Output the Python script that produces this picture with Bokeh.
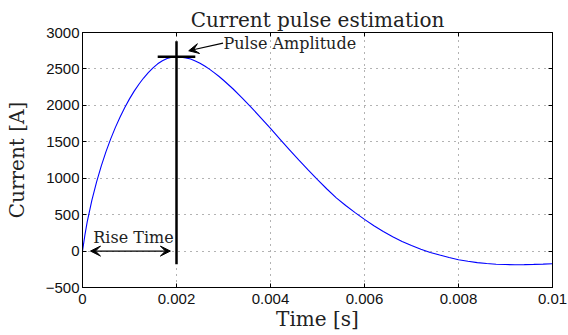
from bokeh.plotting import figure
from bokeh.models import FixedTicker, LinearAxis, Range1d, Arrow, VeeHead, Label
from bokeh.embed import file_html
from bokeh.resources import INLINE

# ---- data ----
time_s = [0.0, 0.00005, 0.0001, 0.0002, 0.0003, 0.0004, 0.0005, 0.0006, 0.0007, 0.0008,
          0.0009, 0.0010, 0.0011, 0.0012, 0.0013, 0.0014, 0.0015, 0.0016, 0.0017, 0.0018,
          0.0019, 0.0020, 0.0021, 0.0022, 0.0023, 0.0024, 0.0025, 0.0026, 0.0027, 0.0028,
          0.0029, 0.0030, 0.0032, 0.0034, 0.0036, 0.0038, 0.0040, 0.0042, 0.0044, 0.0046,
          0.0048, 0.0050, 0.0052, 0.0054, 0.0056, 0.0058, 0.0060, 0.0062, 0.0064, 0.0066,
          0.0068, 0.0070, 0.0072, 0.0074, 0.0076, 0.0078, 0.0080, 0.0082, 0.0084, 0.0086,
          0.0088, 0.0090, 0.0092, 0.0094, 0.0096, 0.0098, 0.0100]
current_a = [0, 215, 400, 700, 950, 1170, 1365, 1540, 1698, 1841,
             1971, 2089, 2195, 2290, 2375, 2450, 2515, 2570, 2613, 2643,
             2660, 2666, 2662, 2652, 2635, 2610, 2578, 2540, 2497, 2450,
             2400, 2345, 2228, 2100, 1966, 1826, 1683, 1538, 1394, 1252,
             1114, 980, 852, 730, 625, 528, 435, 348, 268, 196,
             132, 75, 25, -20, -55, -88, -118, -140, -158, -171,
             -180, -185, -187, -186, -183, -179, -174]

x_ticks = [0.0, 0.002, 0.004, 0.006, 0.008, 0.01]
x_tick_labels = ["0", "0.002", "0.004", "0.006", "0.008", "0.01"]
y_ticks = [-500, 0, 500, 1000, 1500, 2000, 2500, 3000]
y_tick_labels = ["\u2212500", "0", "500", "1000", "1500", "2000", "2500", "3000"]

peak_time = 0.002
peak_current = 2666
rise_start = 0.0

title_text = "Current pulse estimation"
x_label = "Time [s]"
y_label = "Current [A]"
pulse_text = "Pulse Amplitude"
rise_text = "Rise Time"

SERIF = "DejaVu Serif"
SANS = "Liberation Sans"

p = figure(width=568, height=335, output_backend="svg", toolbar_location=None,
           x_range=Range1d(0, 0.01), y_range=Range1d(-500, 3000),
           min_border_left=82, min_border_right=16, min_border_top=32,
           min_border_bottom=48, background_fill_color="white",
           border_fill_color="white")

p.outline_line_color = "black"
p.outline_line_width = 1

# title
p.title.text = title_text
p.title.align = "center"
p.title.text_font = SERIF
p.title.text_font_size = "20px"
p.title.text_font_style = "normal"
p.title.text_color = "#222222"
p.title.standoff = 2

# axes
def style_axis(ax, ticks, labels, show_labels=True):
    ax.ticker = FixedTicker(ticks=ticks)
    ax.major_tick_in = 4
    ax.major_tick_out = 0
    ax.minor_tick_line_color = None
    ax.axis_line_color = "black"
    ax.major_tick_line_color = "black"
    ax.major_label_text_font = SANS
    ax.major_label_text_color = "#111111"
    if show_labels:
        ax.major_label_overrides = {t: l for t, l in zip(ticks, labels)}
        ax.major_label_text_font_size = "15px"
    else:
        ax.major_label_overrides = {t: "" for t in ticks}
        ax.major_label_text_font_size = "2px"
        ax.major_label_standoff = 0

style_axis(p.xaxis[0], x_ticks, x_tick_labels)
style_axis(p.yaxis[0], y_ticks, y_tick_labels)
p.xaxis.major_label_standoff = 6
p.yaxis.major_label_standoff = 3

for ax in (p.xaxis[0], p.yaxis[0]):
    ax.axis_label_text_font = SERIF
    ax.axis_label_text_font_size = "20px"
    ax.axis_label_text_font_style = "normal"
    ax.axis_label_text_color = "#222222"
p.xaxis.axis_label = x_label
p.yaxis.axis_label = y_label
p.xaxis.axis_label_standoff = 0
p.yaxis.axis_label_standoff = 14

right_ax = LinearAxis()
style_axis(right_ax, y_ticks, y_tick_labels, show_labels=False)
p.add_layout(right_ax, "right")
top_ax = LinearAxis()
style_axis(top_ax, x_ticks, x_tick_labels, show_labels=False)
p.add_layout(top_ax, "above")

# grid
p.xgrid.ticker = FixedTicker(ticks=x_ticks)
p.ygrid.ticker = FixedTicker(ticks=y_ticks)
p.grid.grid_line_color = "#666666"
p.grid.grid_line_dash = "1 5"
p.grid.grid_line_width = 1

# curve
p.line(time_s, current_a, line_color="#0000ff", line_width=1.1)

# peak markers
p.segment(x0=[peak_time], y0=[-180], x1=[peak_time], y1=[2880],
          line_color="black", line_width=2.5)
p.segment(x0=[peak_time - 0.0004], y0=[peak_current], x1=[peak_time + 0.0004],
          y1=[peak_current], line_color="black", line_width=2.5)

# arrows
head = dict(size=10, fill_color="black", line_color="black", line_width=1)
p.add_layout(Arrow(end=VeeHead(**head), x_start=peak_time + 0.00099,
                   y_start=2855, x_end=peak_time + 0.00026, y_end=2749,
                   line_color="black", line_width=1.2))
p.add_layout(Arrow(start=VeeHead(**head), end=VeeHead(**head),
                   x_start=rise_start + 0.00017, y_start=0,
                   x_end=peak_time - 0.00013, y_end=0,
                   line_color="black", line_width=1.2))

# texts
p.add_layout(Label(x=peak_time + 0.001, y=2845, text=pulse_text,
                   text_font=SERIF, text_font_size="16px",
                   text_baseline="alphabetic", text_align="left",
                   text_color="#222222"))
p.add_layout(Label(x=rise_start + 0.00023, y=180, text=rise_text,
                   text_font=SERIF, text_font_size="16px",
                   text_baseline="alphabetic", text_align="left",
                   text_color="#222222"))

open("out.html", "w").write(file_html(p, INLINE))
